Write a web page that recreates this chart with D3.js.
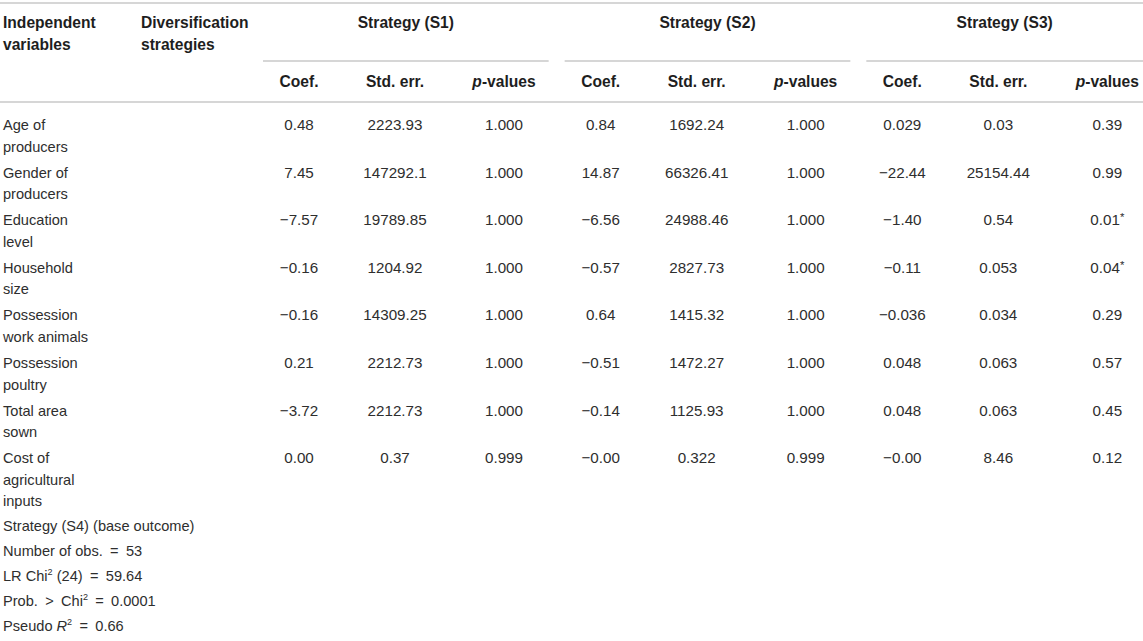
<!DOCTYPE html>
<html>
<head>
<meta charset="utf-8">
<script src="https://cdn.jsdelivr.net/npm/d3@7"></script>
<style>
  body { margin: 0; background: #fff; }
  text { font-family: "Liberation Sans", Arial, Helvetica, sans-serif; }
</style>
</head>
<body>
<div id="table"></div>
<script>
// Data ---------------------------------------------------------------------------------------------------------------
const strategies = ["Strategy (S1)", "Strategy (S2)", "Strategy (S3)"];
const statLabels = ["Coef.", "Std. err.", "p-values"];

const variableLabels = [
  ["Age of", "producers"],
  ["Gender of", "producers"],
  ["Education", "level"],
  ["Household", "size"],
  ["Possession", "work animals"],
  ["Possession", "poultry"],
  ["Total area", "sown"],
  ["Cost of", "agricultural", "inputs"]
];

const coefS1 = ["0.48", "7.45", "−7.57", "−0.16", "−0.16", "0.21", "−3.72", "0.00"];
const seS1 = ["2223.93", "147292.1", "19789.85", "1204.92", "14309.25", "2212.73", "2212.73", "0.37"];
const pS1 = ["1.000", "1.000", "1.000", "1.000", "1.000", "1.000", "1.000", "0.999"];

const coefS2 = ["0.84", "14.87", "−6.56", "−0.57", "0.64", "−0.51", "−0.14", "−0.00"];
const seS2 = ["1692.24", "66326.41", "24988.46", "2827.73", "1415.32", "1472.27", "1125.93", "0.322"];
const pS2 = ["1.000", "1.000", "1.000", "1.000", "1.000", "1.000", "1.000", "0.999"];

const coefS3 = ["0.029", "−22.44", "−1.40", "−0.11", "−0.036", "0.048", "0.048", "−0.00"];
const seS3 = ["0.03", "25154.44", "0.54", "0.053", "0.034", "0.063", "0.063", "8.46"];
const pS3 = ["0.39", "0.99", "0.01*", "0.04*", "0.29", "0.57", "0.45", "0.12"];

const footNotes = [
  "Strategy (S4) (base outcome)",
  "Number of obs. = 53",
  "LR Chi^{2} (24) = 59.64",
  "Prob. > Chi^{2} = 0.0001",
  "Pseudo _R_^{2} = 0.66"
];

const strategyValues = [
  [coefS1, seS1, pS1],
  [coefS2, seS2, pS2],
  [coefS3, seS3, pS3]
];

// Canvas -------------------------------------------------------------------------------------------------------------
const canvasWidth = 1143;
const canvasHeight = 641;
const fontSize = 14.6;
const numberFontSize = 15.2;
const headFontSize = 15.6;
const lineHeight = 21.5;
const ruleColor = "#c8c8c8";
const textColor = "#2e2e2e";
const headColor = "#1e1e1e";

const svg = d3.select("#table")
  .append("svg")
  .attr("width", canvasWidth)
  .attr("height", canvasHeight);

// Scales -------------------------------------------------------------------------------------------------------------
const xGroup = d3.scaleBand()
  .domain(strategies)
  .range([255, 1160]);
const xSub = d3.scaleOrdinal()
  .domain(statLabels)
  .range([44, 140, 249]);

const headerBottom = 102;
const rowStep = 47.6;
const yRow = d3.scaleBand()
  .domain(d3.range(variableLabels.length))
  .range([headerBottom, headerBottom + rowStep * variableLabels.length]);

// render text with ^{sup}, _italic_ and superscript * markup
function richText(sel, str, size) {
  let pendingDy = 0;
  str = str.replace(/ = /g, "\u2002=\u2002").replace(/ > /g, "\u2002>\u2002");
  str.split(/(\^\{[^}]*\}|_[^_]+_|\*)/).filter(s => s.length).forEach(function(part) {
    let span;
    if (part.startsWith("^{") || part === "*") {
      const lift = part === "*" ? 4 : 6;
      span = sel.append("tspan").text(part === "*" ? "*" : part.slice(2, -1))
        .attr("font-size", size * (part === "*" ? 0.75 : 0.62))
        .attr("dy", pendingDy - lift);
      pendingDy = lift;
      return;
    }
    span = sel.append("tspan");
    if (part.startsWith("_")) {
      span.text(part.slice(1, -1)).attr("font-style", "italic");
    } else {
      span.text(part);
    }
    if (pendingDy) span.attr("dy", pendingDy);
    pendingDy = 0;
  });
}

// Rules --------------------------------------------------------------------------------------------------------------
function rule(x1, x2, y) {
  svg.append("line")
    .attr("x1", x1).attr("x2", x2)
    .attr("y1", y).attr("y2", y)
    .attr("stroke", ruleColor)
    .attr("stroke-width", 1.6);
}
rule(0, canvasWidth, 3);
rule(0, canvasWidth, headerBottom);

// Header -------------------------------------------------------------------------------------------------------------
const headGroup = svg.append("g")
  .attr("font-size", headFontSize)
  .attr("font-weight", "bold")
  .attr("fill", headColor);

[["Independent", "variables"], ["Diversification", "strategies"]].forEach(function(lines, i) {
  lines.forEach(function(line, j) {
    headGroup.append("text")
      .attr("x", i === 0 ? 3 : 141)
      .attr("y", 28 + j * lineHeight)
      .text(line);
  });
});

strategies.forEach(function(s) {
  const x1 = xGroup(s) + 8;
  const x2 = Math.min(xGroup(s) + xGroup.bandwidth() - 8, canvasWidth);
  rule(x1, x2, 61);
  headGroup.append("text")
    .attr("x", (x1 + x2) / 2)
    .attr("y", 28)
    .attr("text-anchor", "middle")
    .text(s);

  statLabels.forEach(function(k) {
    const t = headGroup.append("text")
      .attr("x", xGroup(s) + xSub(k))
      .attr("y", 87)
      .attr("text-anchor", "middle");
    if (k.startsWith("p-")) {
      t.append("tspan").attr("font-style", "italic").text("p");
      t.append("tspan").text(k.slice(1));
    } else {
      t.text(k);
    }
  });
});

// Body ---------------------------------------------------------------------------------------------------------------
const bodyGroup = svg.append("g")
  .attr("font-size", fontSize)
  .attr("fill", textColor);

const firstBaseline = 28;

variableLabels.forEach(function(lines, r) {
  lines.forEach(function(line, j) {
    bodyGroup.append("text")
      .attr("x", 3)
      .attr("y", yRow(r) + firstBaseline + j * lineHeight)
      .text(line);
  });
});

strategies.forEach(function(s, si) {
  statLabels.forEach(function(k, ki) {
    strategyValues[si][ki].forEach(function(v, r) {
      const t = bodyGroup.append("text")
        .attr("x", xGroup(s) + xSub(k))
        .attr("y", yRow(r) + firstBaseline)
        .attr("font-size", numberFontSize)
        .attr("text-anchor", "middle");
      richText(t, v, numberFontSize);
    });
  });
});

// Footnotes ----------------------------------------------------------------------------------------------------------
const lastRow = variableLabels.length - 1;
const lastLineY = yRow(lastRow) + firstBaseline + (variableLabels[lastRow].length - 1) * lineHeight;
const footStep = 25;

footNotes.forEach(function(note, i) {
  const t = bodyGroup.append("text")
    .attr("x", 3)
    .attr("y", lastLineY + footStep * (i + 1));
  richText(t, note, fontSize);
});
</script>
</body>
</html>
